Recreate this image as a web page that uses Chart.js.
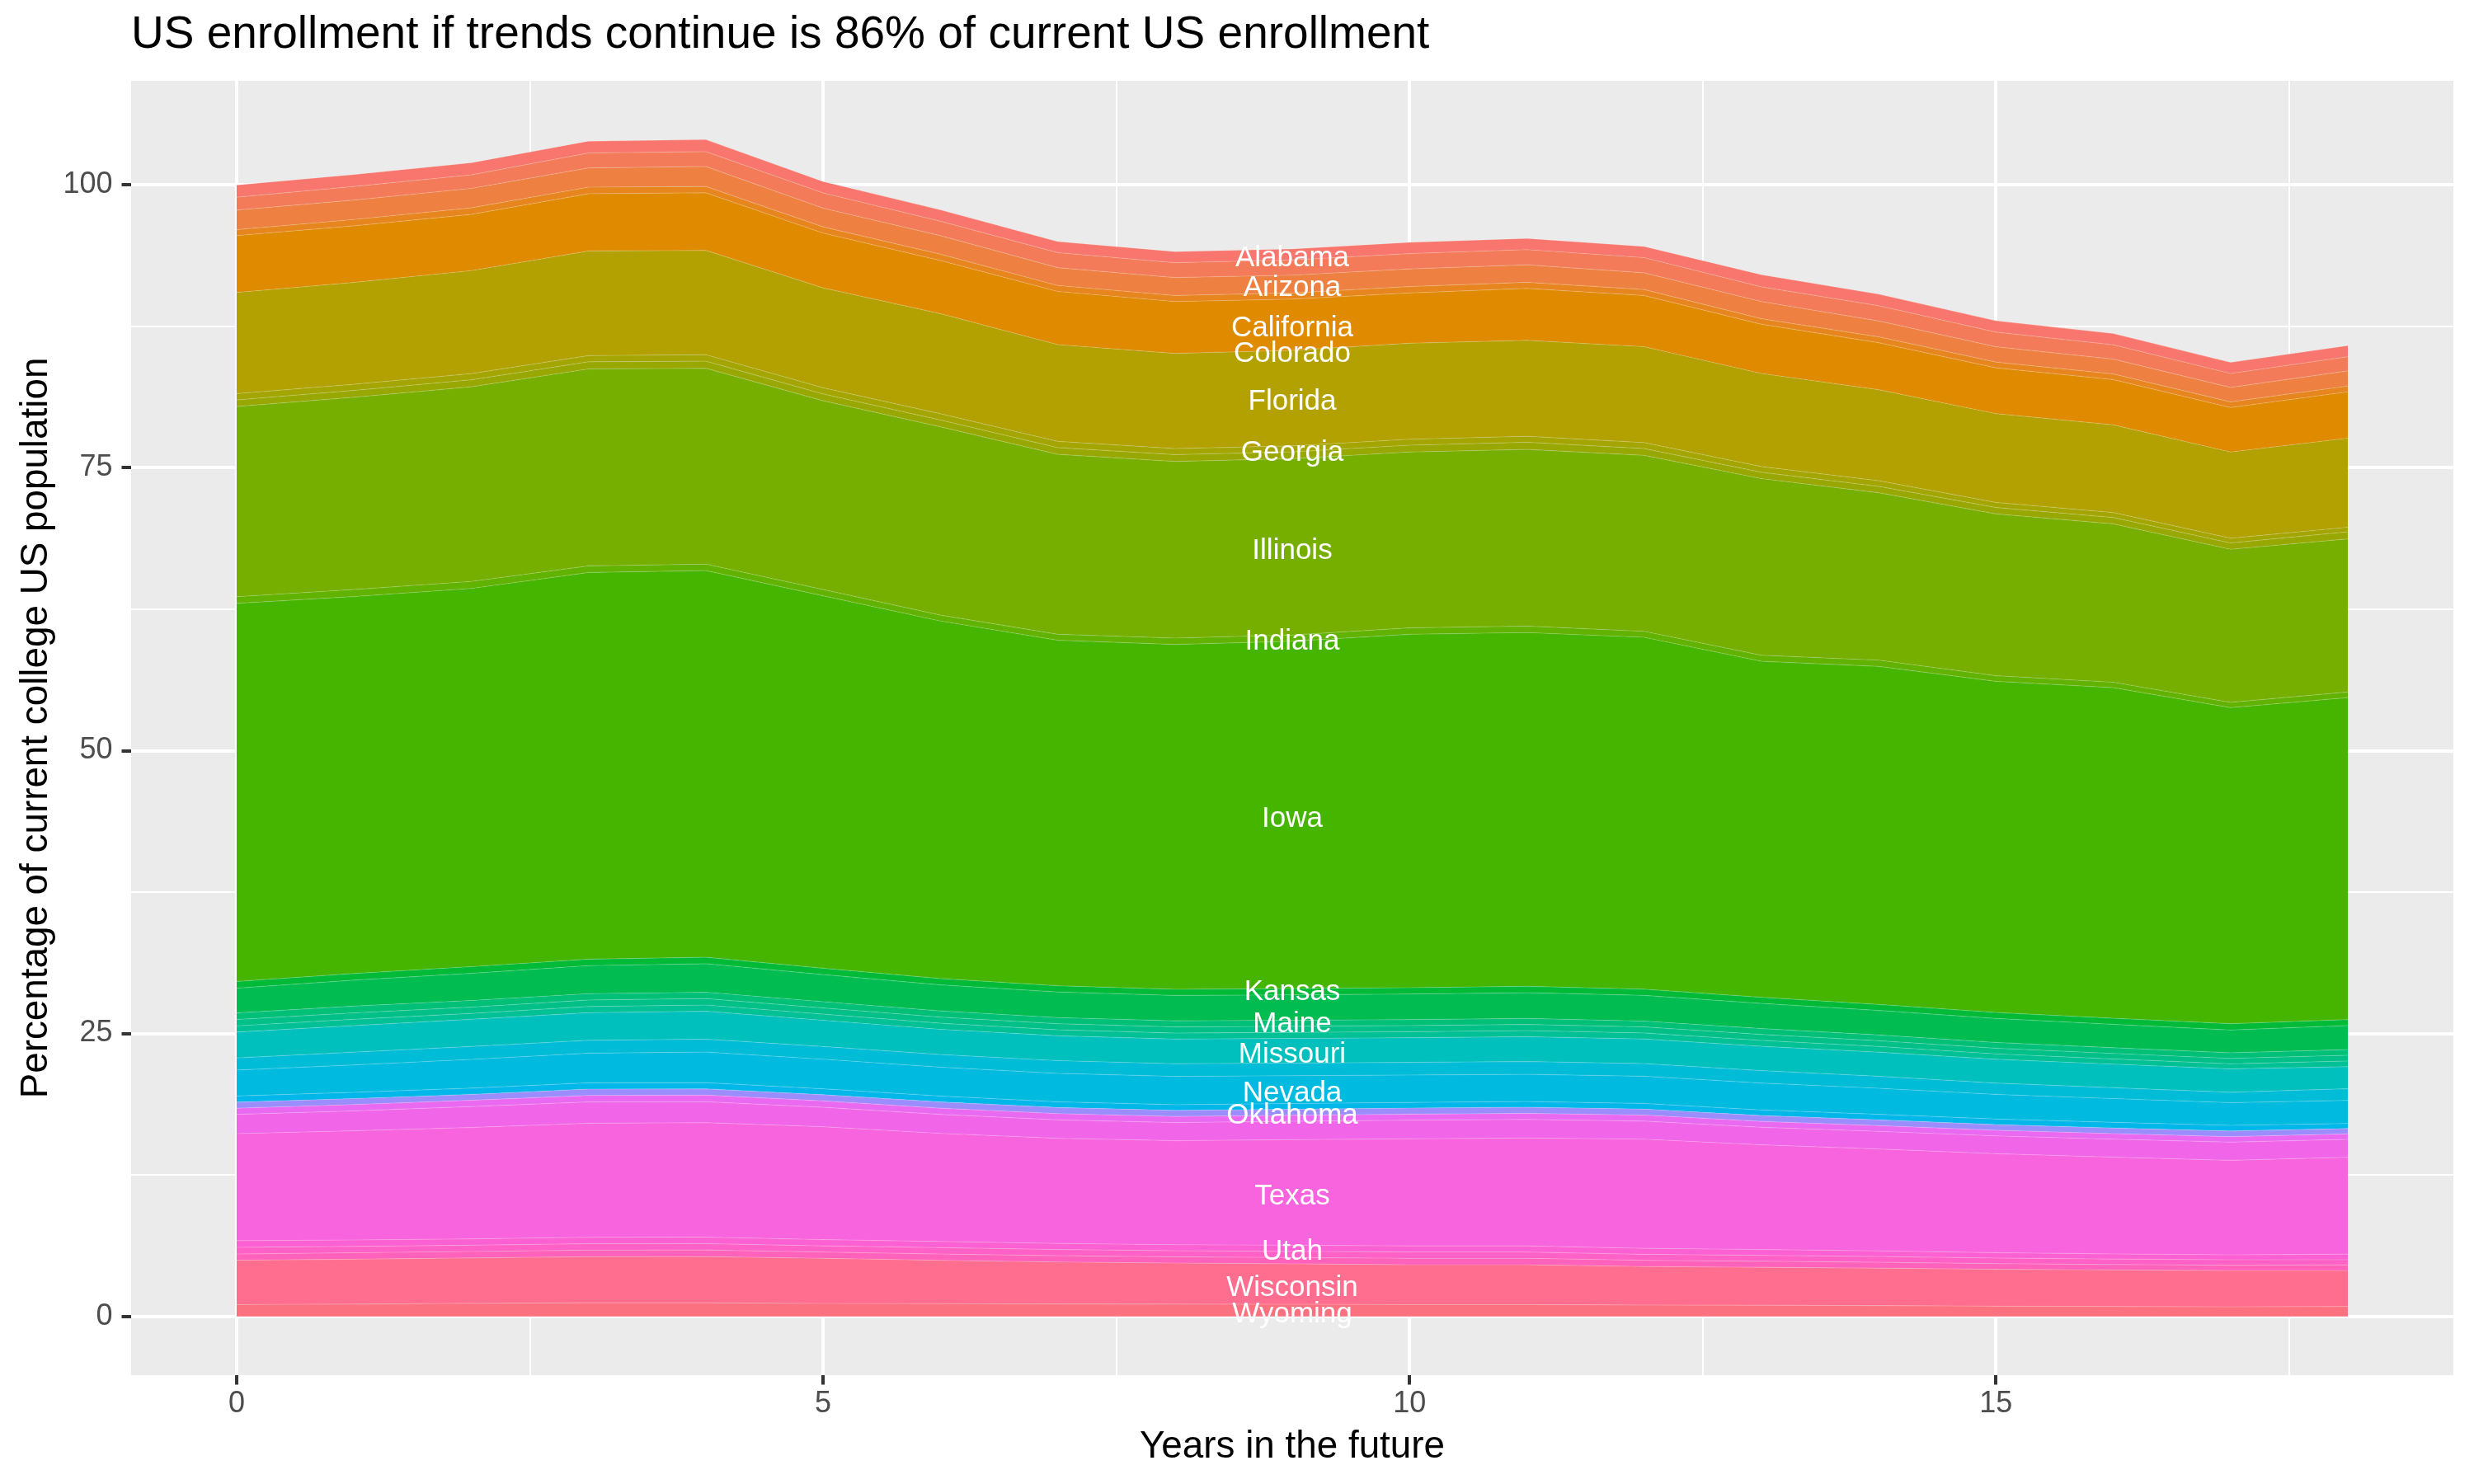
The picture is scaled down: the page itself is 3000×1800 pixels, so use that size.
<!DOCTYPE html>
<html>
<head>
<meta charset="utf-8">
<script src="https://cdn.jsdelivr.net/npm/chart.js@4.4.0/dist/chart.umd.min.js"></script>
<style>
html,body{margin:0;padding:0;background:#ffffff;}
#wrap{width:3000px;height:1800px;}
canvas{display:block;}
</style>
</head>
<body>
<div id="wrap"><canvas id="c" width="3000" height="1800"></canvas></div>
<script>
// ---------- data ----------
const years = [0,1,2,3,4,5,6,7,8,9,10,11,12,13,14,15,16,17,18];

const states = ["Alabama","Alaska","Arizona","Arkansas","California","Colorado","Connecticut","Delaware","District of Columbia","Florida","Georgia","Hawaii","Idaho","Illinois","Indiana","Iowa","Kansas","Kentucky","Louisiana","Maine","Maryland","Massachusetts","Michigan","Minnesota","Mississippi","Missouri","Montana","Nebraska","Nevada","New Hampshire","New Jersey","New Mexico","New York","North Carolina","North Dakota","Ohio","Oklahoma","Oregon","Pennsylvania","Rhode Island","South Carolina","South Dakota","Tennessee","Texas","Utah","Vermont","Virginia","Washington","West Virginia","Wisconsin","Wyoming"];

const Alabama = [1.08,1.05,1.06,1.04,1.06,1.00,1.00,0.98,0.98,0.98,0.99,0.99,0.99,1.07,1.02,1.00,0.99,0.98,0.98];
const Alaska = [1.14,1.20,1.20,1.32,1.31,1.35,1.28,1.33,1.31,1.34,1.36,1.34,1.34,1.30,1.35,1.30,1.27,1.23,1.25];
const Arizona = [1.73,1.72,1.72,1.70,1.77,1.65,1.64,1.57,1.59,1.57,1.56,1.55,1.48,1.52,1.40,1.35,1.31,1.28,1.34];
const Arkansas = [0.52,0.56,0.58,0.58,0.56,0.55,0.55,0.53,0.53,0.55,0.56,0.54,0.53,0.49,0.52,0.51,0.50,0.50,0.51];
const California = [5.03,5.00,4.97,5.06,5.09,4.84,4.70,4.70,4.59,4.52,4.45,4.59,4.52,4.35,4.15,4.05,4.00,3.93,4.10];
const Colorado = [0,0,0,0,0,0,0,0,0,0,0,0,0,0,0,0,0,0,0];
const Connecticut = [0,0,0,0,0,0,0,0,0,0,0,0,0,0,0,0,0,0,0];
const Delaware = [0,0,0,0,0,0,0,0,0,0,0,0,0,0,0,0,0,0,0];
const DistrictOfColumbia = [0,0,0,0,0,0,0,0,0,0,0,0,0,0,0,0,0,0,0];
const Florida = [8.94,9.00,9.10,9.25,9.22,8.83,8.85,8.55,8.41,8.45,8.48,8.48,8.48,8.23,8.05,7.85,7.75,7.62,7.87];
const Georgia = [0.56,0.55,0.55,0.55,0.57,0.55,0.55,0.55,0.53,0.53,0.53,0.53,0.53,0.50,0.50,0.45,0.44,0.42,0.41];
const Hawaii = [0.58,0.60,0.62,0.63,0.63,0.60,0.60,0.60,0.60,0.60,0.60,0.63,0.60,0.56,0.56,0.56,0.56,0.56,0.62];
const Idaho = [0,0,0,0,0,0,0,0,0,0,0,0,0,0,0,0,0,0,0];
const Illinois = [16.81,17.00,17.20,17.41,17.31,16.69,16.65,15.90,15.62,15.58,15.55,15.62,15.55,15.62,14.80,14.30,14.00,13.53,13.53];
const Indiana = [0.59,0.62,0.62,0.58,0.57,0.55,0.52,0.53,0.56,0.56,0.56,0.57,0.53,0.53,0.55,0.50,0.48,0.47,0.50];
const Iowa = [33.42,33.32,33.43,34.18,34.18,32.92,31.60,30.54,30.48,30.70,31.24,31.27,31.10,29.70,29.88,29.27,29.22,27.93,28.46];
const Kansas = [0,0,0,0,0,0,0,0,0,0,0,0,0,0,0,0,0,0,0];
const Kentucky = [0.59,0.58,0.59,0.57,0.57,0.56,0.56,0.55,0.55,0.55,0.56,0.56,0.55,0.54,0.53,0.53,0.54,0.56,0.53];
const Louisiana = [2.19,2.30,2.40,2.48,2.52,2.40,2.30,2.26,2.24,2.25,2.26,2.28,2.27,2.22,2.17,2.12,2.07,2.01,2.12];
const Maine = [0,0,0,0,0,0,0,0,0,0,0,0,0,0,0,0,0,0,0];
const Maryland = [0.58,0.60,0.59,0.56,0.56,0.55,0.55,0.54,0.54,0.53,0.53,0.53,0.52,0.52,0.51,0.51,0.50,0.50,0.50];
const Massachusetts = [0.56,0.56,0.55,0.57,0.57,0.55,0.54,0.54,0.54,0.54,0.54,0.54,0.53,0.53,0.51,0.50,0.49,0.48,0.51];
const Michigan = [0.55,0.56,0.52,0.55,0.55,0.54,0.54,0.53,0.53,0.53,0.53,0.54,0.53,0.52,0.50,0.48,0.46,0.44,0.50];
const Minnesota = [0,0,0,0,0,0,0,0,0,0,0,0,0,0,0,0,0,0,0];
const Mississippi = [0,0,0,0,0,0,0,0,0,0,0,0,0,0,0,0,0,0,0];
const Missouri = [2.29,2.35,2.41,2.44,2.47,2.32,2.23,2.20,2.18,2.18,2.18,2.20,2.18,2.15,2.13,2.10,2.08,2.07,1.95];
const Montana = [0,0,0,0,0,0,0,0,0,0,0,0,0,0,0,0,0,0,0];
const Nebraska = [1.07,1.13,1.14,1.14,1.14,1.12,1.12,1.12,1.12,1.12,1.12,1.13,1.12,1.10,1.06,1.00,0.96,0.92,1.03];
const Nevada = [2.29,2.42,2.54,2.62,2.70,2.62,2.55,2.52,2.50,2.46,2.42,2.40,2.40,2.38,2.30,2.18,2.10,2.01,2.04];
const NewHampshire = [0.55,0.55,0.55,0.55,0.55,0.52,0.52,0.50,0.50,0.50,0.50,0.50,0.50,0.49,0.49,0.49,0.50,0.50,0.45];
const NewJersey = [0,0,0,0,0,0,0,0,0,0,0,0,0,0,0,0,0,0,0];
const NewMexico = [0,0,0,0,0,0,0,0,0,0,0,0,0,0,0,0,0,0,0];
const NewYork = [0,0,0,0,0,0,0,0,0,0,0,0,0,0,0,0,0,0,0];
const NorthCarolina = [0,0,0,0,0,0,0,0,0,0,0,0,0,0,0,0,0,0,0];
const NorthDakota = [0,0,0,0,0,0,0,0,0,0,0,0,0,0,0,0,0,0,0];
const Ohio = [0,0,0,0,0,0,0,0,0,0,0,0,0,0,0,0,0,0,0];
const Oklahoma = [0.53,0.53,0.52,0.56,0.56,0.55,0.55,0.54,0.54,0.54,0.54,0.55,0.53,0.52,0.51,0.50,0.50,0.50,0.47];
const Oregon = [0,0,0,0,0,0,0,0,0,0,0,0,0,0,0,0,0,0,0];
const Pennsylvania = [0,0,0,0,0,0,0,0,0,0,0,0,0,0,0,0,0,0,0];
const RhodeIsland = [0,0,0,0,0,0,0,0,0,0,0,0,0,0,0,0,0,0,0];
const SouthCarolina = [0,0,0,0,0,0,0,0,0,0,0,0,0,0,0,0,0,0,0];
const SouthDakota = [0.55,0.56,0.56,0.58,0.58,0.56,0.55,0.55,0.54,0.53,0.53,0.54,0.53,0.52,0.51,0.50,0.49,0.48,0.48];
const Tennessee = [1.70,1.76,1.85,1.88,1.85,1.72,1.68,1.63,1.60,1.62,1.65,1.64,1.60,1.55,1.56,1.57,1.59,1.61,1.59];
const Texas = [9.46,9.65,9.84,10.08,10.12,9.98,9.55,9.29,9.20,9.33,9.46,9.53,9.65,9.25,9.00,8.75,8.55,8.35,8.56];
const Utah = [0.59,0.57,0.56,0.57,0.57,0.55,0.55,0.54,0.53,0.54,0.55,0.55,0.53,0.52,0.50,0.48,0.46,0.44,0.50];
const Vermont = [0.59,0.56,0.56,0.57,0.57,0.55,0.56,0.55,0.54,0.55,0.55,0.55,0.53,0.52,0.51,0.49,0.48,0.48,0.45];
const Virginia = [0.55,0.57,0.57,0.58,0.58,0.55,0.56,0.56,0.55,0.56,0.57,0.57,0.55,0.54,0.52,0.50,0.48,0.47,0.50];
const Washington = [0,0,0,0,0,0,0,0,0,0,0,0,0,0,0,0,0,0,0];
const WestVirginia = [0,0,0,0,0,0,0,0,0,0,0,0,0,0,0,0,0,0,0];
const Wisconsin = [3.92,3.97,4.01,4.07,4.08,3.99,3.83,3.70,3.63,3.58,3.52,3.52,3.40,3.35,3.31,3.26,3.23,3.21,3.18];
const Wyoming = [1.04,1.08,1.15,1.20,1.20,1.14,1.12,1.10,1.08,1.06,1.04,1.04,1.00,0.98,0.95,0.90,0.87,0.84,0.87];

const stateValues = [Alabama,Alaska,Arizona,Arkansas,California,Colorado,Connecticut,Delaware,DistrictOfColumbia,Florida,Georgia,Hawaii,Idaho,Illinois,Indiana,Iowa,Kansas,Kentucky,Louisiana,Maine,Maryland,Massachusetts,Michigan,Minnesota,Mississippi,Missouri,Montana,Nebraska,Nevada,NewHampshire,NewJersey,NewMexico,NewYork,NorthCarolina,NorthDakota,Ohio,Oklahoma,Oregon,Pennsylvania,RhodeIsland,SouthCarolina,SouthDakota,Tennessee,Texas,Utah,Vermont,Virginia,Washington,WestVirginia,Wisconsin,Wyoming];

const labeledStates = ["Alabama","Arizona","California","Colorado","Florida","Georgia","Illinois","Indiana","Iowa","Kansas","Maine","Missouri","Nevada","Oklahoma","Texas","Utah","Wisconsin","Wyoming"];
const labelYear = 9;

const xTicks = [0,5,10,15];
const xMinor = [2.5,7.5,12.5,17.5];
const yTicks = [0,25,50,75,100];
const yMinor = [12.5,37.5,62.5,87.5];

const titleText = "US enrollment if trends continue is 86% of current US enrollment";
const xTitle = "Years in the future";
const yTitle = "Percentage of current college US population";

// ---------- styling helpers ----------
const FONT = '"Liberation Sans", Arial, Helvetica, sans-serif';
const LABEL_SIZE = 35;

function hcl(h, c, l) {
  const hr = h * Math.PI / 180;
  const U = c * Math.cos(hr), V = c * Math.sin(hr);
  const Xn = 95.047, Yn = 100.0, Zn = 108.883;
  const den = Xn + 15 * Yn + 3 * Zn;
  const un = 4 * Xn / den, vn = 9 * Yn / den;
  const Y = l > 8 ? Yn * Math.pow((l + 16) / 116, 3) : Yn * l / 903.3;
  const u = U / (13 * l) + un, v = V / (13 * l) + vn;
  const X = 9 * Y * u / (4 * v);
  const Z = (9 * Y / v - X - 15 * Y) / 3;
  const x = X / 100, y = Y / 100, z = Z / 100;
  let r = 3.240479 * x - 1.537150 * y - 0.498535 * z;
  let g = -0.969256 * x + 1.875992 * y + 0.041556 * z;
  let b = 0.055648 * x - 0.204043 * y + 1.057311 * z;
  const gam = t => t <= 0.0031308 ? 12.92 * t : 1.055 * Math.pow(t, 1 / 2.4) - 0.055;
  const to = t => Math.round(Math.min(1, Math.max(0, gam(t))) * 255);
  return 'rgb(' + to(r) + ',' + to(g) + ',' + to(b) + ')';
}

const hueColors = states.map((s, i) => hcl(15 + 360 * i / states.length, 100, 65));

// ---------- datasets (ggplot stacks first level on top -> reverse) ----------
let datasets = states.map((name, i) => ({
  label: name,
  data: years.map((yr, k) => ({ x: yr, y: stateValues[i][k] })),
  backgroundColor: hueColors[i],
  borderColor: 'rgba(255,255,255,0.18)',
  borderWidth: stateValues[i].some(v => v > 0) ? 1.2 : 0,
  pointRadius: 0,
  pointHoverRadius: 0,
  tension: 0
})).reverse();
datasets.forEach((d, k) => { d.fill = k === 0 ? 'origin' : '-1'; });

const totals = years.map((yr, k) => stateValues.reduce((a, arr) => a + arr[k], 0));
const maxTotal = Math.max(...totals);
const xRange = years[years.length - 1] - years[0];
const xMin = years[0] - 0.05 * xRange, xMax = years[years.length - 1] + 0.05 * xRange;
const yMin = -0.05 * maxTotal, yMax = maxTotal * 1.05;

// ---------- plugins ----------
const panelBg = {
  id: 'panelBg',
  beforeDraw(chart) {
    const { ctx, chartArea: a } = chart;
    ctx.save();
    ctx.fillStyle = '#FFFFFF';
    ctx.fillRect(0, 0, chart.width, chart.height);
    ctx.fillStyle = '#EBEBEB';
    ctx.fillRect(a.left, a.top, a.right - a.left, a.bottom - a.top);
    ctx.restore();
  }
};

const areaLabels = {
  id: 'areaLabels',
  afterDatasetsDraw(chart) {
    const { ctx, scales: { x, y } } = chart;
    const idx = years.indexOf(labelYear);
    ctx.save();
    ctx.font = LABEL_SIZE + 'px ' + FONT;
    ctx.fillStyle = '#FFFFFF';
    ctx.textAlign = 'center';
    ctx.textBaseline = 'alphabetic';
    labeledStates.forEach(name => {
      const i = states.indexOf(name);
      let below = 0;
      for (let j = i + 1; j < states.length; j++) below += stateValues[j][idx];
      const mid = below + stateValues[i][idx] / 2;
      ctx.fillText(name, x.getPixelForValue(labelYear), y.getPixelForValue(mid) + LABEL_SIZE * 0.41);
    });
    ctx.restore();
  }
};

Chart.defaults.font.family = FONT;

new Chart(document.getElementById('c'), {
  type: 'line',
  data: { datasets },
  options: {
    responsive: false,
    devicePixelRatio: 1,
    animation: false,
    events: [],
    layout: { padding: { top: 0, left: 0, right: 25, bottom: 0 } },
    plugins: {
      legend: { display: false },
      tooltip: { enabled: false },
      title: {
        display: true, text: titleText, align: 'start', fullSize: false,
        color: '#000000', font: { size: 55, weight: 'normal', family: FONT },
        padding: { top: 10, bottom: 22 }
      }
    },
    scales: {
      x: {
        type: 'linear', min: xMin, max: xMax,
        afterBuildTicks: ax => { ax.ticks = xTicks.concat(xMinor).sort((a, b) => a - b).map(v => ({ value: v })); },
        afterFit: sc => { sc.height = 132; },
        ticks: {
          autoSkip: false, maxRotation: 0, padding: 2, color: '#4D4D4D',
          font: { size: 36, family: FONT },
          callback: v => xTicks.includes(v) ? String(v) : ''
        },
        grid: {
          color: '#FFFFFF',
          lineWidth: c => (c.tick && xTicks.includes(c.tick.value)) ? 4 : 2,
          drawTicks: true, tickLength: 11.5, tickWidth: 4,
          tickColor: c => (c.tick && xTicks.includes(c.tick.value)) ? '#333333' : 'rgba(0,0,0,0)'
        },
        border: { display: false },
        title: { display: true, text: xTitle, color: '#000000', font: { size: 45.8, family: FONT }, padding: { top: 0, bottom: 17.5 } }
      },
      y: {
        type: 'linear', stacked: true, min: yMin, max: yMax,
        afterBuildTicks: ax => { ax.ticks = yTicks.concat(yMinor).sort((a, b) => a - b).map(v => ({ value: v })); },
        afterFit: sc => { sc.width = 159; },
        ticks: {
          autoSkip: false, padding: 11, color: '#4D4D4D',
          font: { size: 36, family: FONT },
          callback: v => yTicks.includes(v) ? String(v) : ''
        },
        grid: {
          color: '#FFFFFF',
          lineWidth: c => (c.tick && yTicks.includes(c.tick.value)) ? 4 : 2,
          drawTicks: true, tickLength: 11.5, tickWidth: 4,
          tickColor: c => (c.tick && yTicks.includes(c.tick.value)) ? '#333333' : 'rgba(0,0,0,0)'
        },
        border: { display: false },
        title: { display: true, text: yTitle, color: '#000000', font: { size: 45.8, family: FONT }, padding: { top: 16.5, bottom: 0 } }
      }
    }
  },
  plugins: [panelBg, areaLabels]
});
</script>
</body>
</html>
